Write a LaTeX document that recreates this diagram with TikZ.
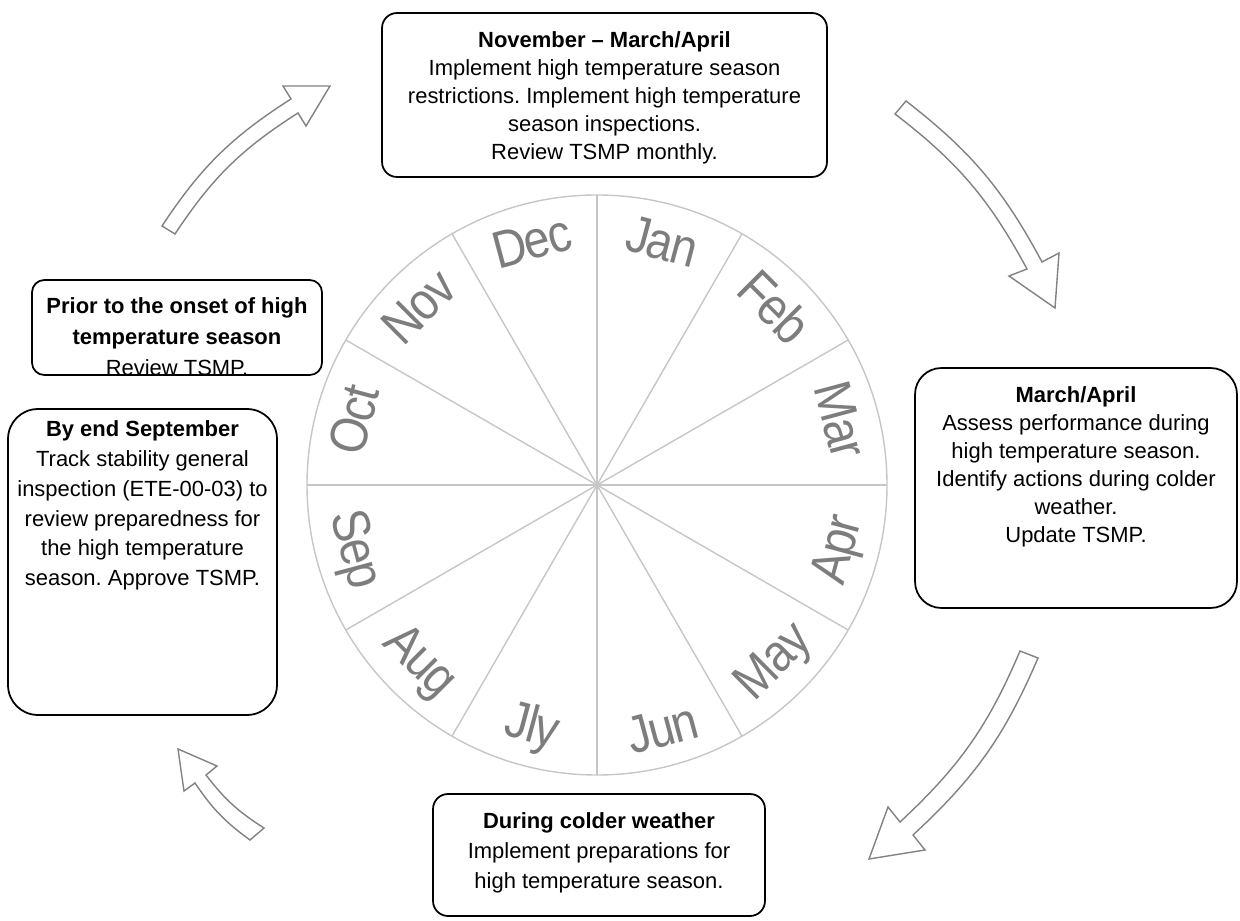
\documentclass[tikz,border=0pt]{standalone}
\usepackage{fontspec}
\setmainfont{Liberation Sans}
\newfontfamily\monthfont[FakeStretch=0.88,LetterSpace=-3.0]{Liberation Sans}
\usetikzlibrary{positioning}
\definecolor{spokegray}{RGB}{198,198,198}
\definecolor{monthgray}{RGB}{125,125,125}
\definecolor{arrowgray}{RGB}{130,130,130}
\frenchspacing

\begin{document}
\begin{tikzpicture}[
    x=0.02cm, y=0.02cm,
    stagebox/.style={draw, line width=1pt, rounded corners=#1, inner sep=0pt},
    stagebox/.default=8.5pt,
    boxtext/.style={align=center, inner sep=0pt, font=\fontsize{12.5}{16}\selectfont},
    loosetext/.style={align=center, inner sep=0pt, font=\fontsize{12.5}{17}\selectfont},
    spoke/.style={draw=spokegray, line width=0.8pt},
    month/.style={text=monthgray, font=\monthfont\fontsize{30}{30}\selectfont, inner sep=0pt},
    cycarrow/.style={draw=arrowgray, fill=white, line width=0.8pt, line join=miter}
]
\useasboundingbox (0,0) rectangle (1240,920);

% month wheel
\coordinate (ctr) at (597,435);
\draw[spoke] (ctr) circle (290);
\foreach \a in {0,30,...,330}
    \draw[spoke] (ctr) -- ++(\a:290);
\foreach \m [count=\i] in {Jan,Feb,Mar,Apr,May,Jun,Jly,Aug,Sep,Oct,Nov,Dec} {
    \pgfmathsetmacro\ang{75-30*(\i-1)}
    \pgfmathsetmacro\rot{sin(\ang)>0 ? \ang-90 : \ang+90}
    \node[month, rotate=\rot] (m\i) at ([shift={(\ang:252)}]ctr) {\m};
}

% stage boxes
\node[stagebox, minimum width=8.9cm, minimum height=3.28cm] (nov) at (604.5,825) {};
\node[stagebox=15pt, minimum width=6.44cm, minimum height=4.8cm] (mar) at (1076,432) {};
\node[stagebox, minimum width=6.64cm, minimum height=2.44cm] (cold) at (599,65) {};
\node[stagebox=7pt, minimum width=5.8cm, minimum height=1.9cm] (prior) at (177,592.5) {};
\node[stagebox=17pt, minimum width=5.38cm, minimum height=6.12cm] (sept) at (142.5,358) {};

\node[boxtext, below=0.38cm of nov.north] (novtxt) {\textbf{November – March/April}\\Implement high temperature season\\restrictions. Implement high temperature\\season inspections.\\Review TSMP monthly.};
\node[boxtext, below=0.38cm of mar.north] (martxt) {\textbf{March/April}\\Assess performance during\\high temperature season.\\Identify actions during colder\\weather.\\Update TSMP.};
\node[loosetext, below=0.38cm of cold.north] (coldtxt) {\textbf{During colder weather}\\Implement preparations for\\high temperature season.};
\node[loosetext, font=\fontsize{12.5}{17.8}\selectfont, below=0.36cm of prior.north] (priortxt) {\textbf{Prior to the onset of high}\\\textbf{temperature season}\\Review TSMP.};
\node[loosetext, below=0.24cm of sept.north] (septtxt) {\textbf{By end September}\\Track stability general\\inspection (ETE-00-03) to\\review preparedness for\\the high temperature\\season. Approve TSMP.};

% cycle arrows
\draw[cycarrow] (162,694) to[bend left=12] (291,821) -- (283,834) -- (330,834) -- (306,794) -- (298,807) to[bend right=12] (175,686) -- cycle;
\draw[cycarrow] (906,819) to[bend left=12] (1042,658) -- (1059,667) -- (1055,612) -- (1009,644) -- (1027,651) to[bend right=12] (895,806) -- cycle;
\draw[cycarrow] (1038,262) to[bend left=12] (913,85) -- (925,70) -- (869,61) -- (888,113) -- (900,98) to[bend right=12] (1020,269) -- cycle;
\draw[cycarrow] (264,92) to[bend left=10] (206,145) -- (217,154) -- (178,171) -- (184,129) -- (195,137) to[bend right=10] (250,80) -- cycle;
\end{tikzpicture}
\end{document}
